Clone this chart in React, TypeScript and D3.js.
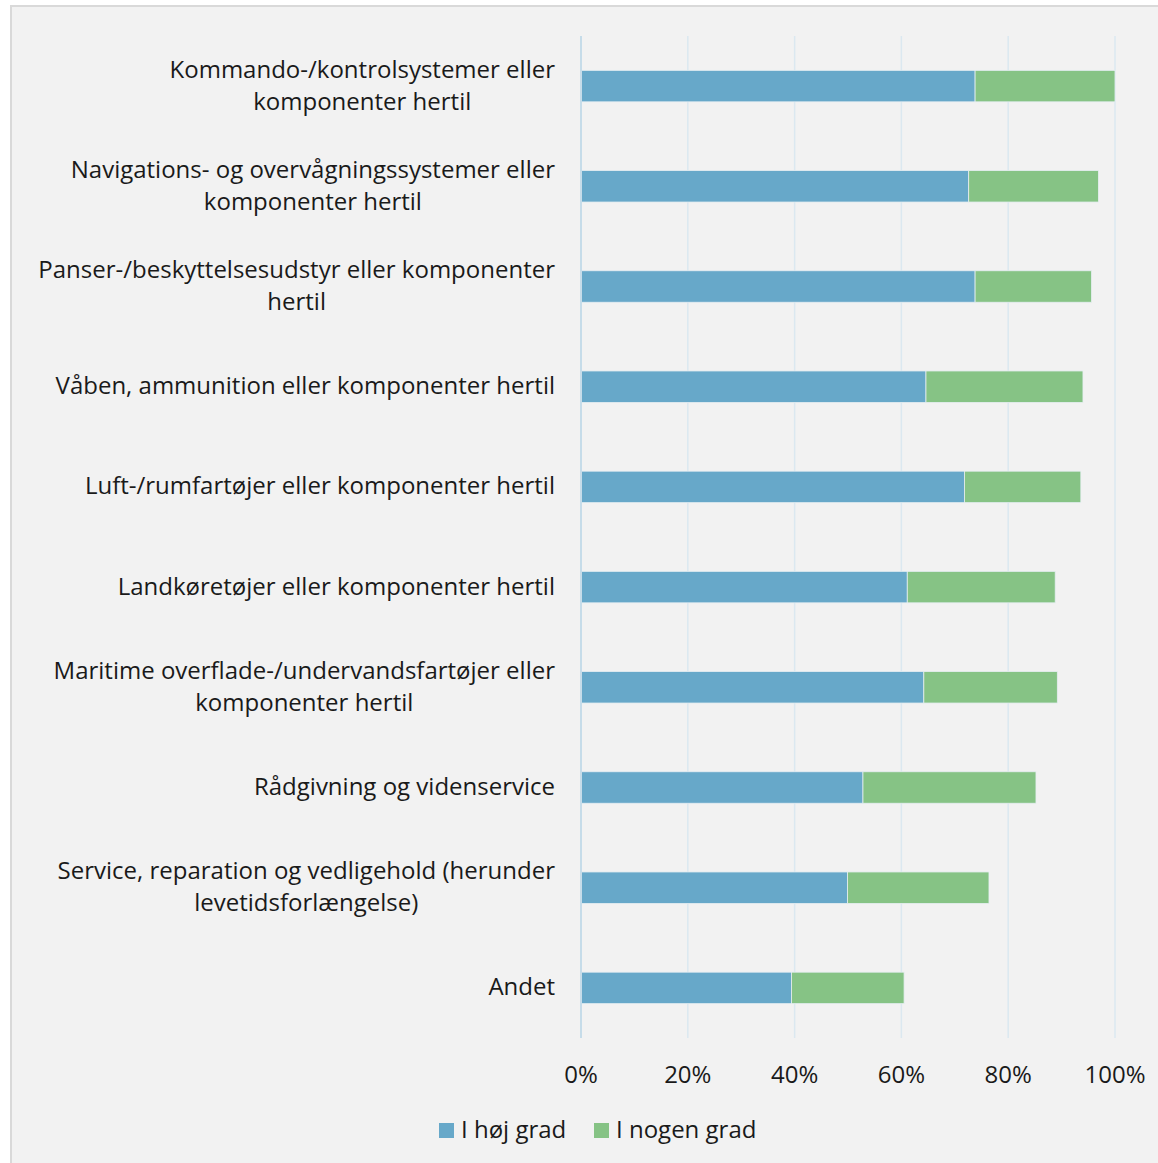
import React, { useEffect, useRef } from "react";
import * as d3 from "d3";

const categories = [
  "Kommando-/kontrolsystemer eller\nkomponenter hertil",
  "Navigations- og overvågningssystemer eller\nkomponenter hertil",
  "Panser-/beskyttelsesudstyr eller komponenter\nhertil",
  "Våben, ammunition eller komponenter hertil",
  "Luft-/rumfartøjer eller komponenter hertil",
  "Landkøretøjer eller komponenter hertil",
  "Maritime overflade-/undervandsfartøjer eller\nkomponenter hertil",
  "Rådgivning og videnservice",
  "Service, reparation og vedligehold (herunder\nlevetidsforlængelse)",
  "Andet",
];
const hojGrad = [73.8, 72.6, 73.8, 64.6, 71.8, 61.1, 64.2, 52.8, 49.9, 39.4];
const nogenGrad = [26.2, 24.3, 21.8, 29.4, 21.8, 27.7, 25.0, 32.4, 26.5, 21.1];
const seriesNames = ["I høj grad", "I nogen grad"];
const tickValues = [0, 20, 40, 60, 80, 100];

const W = 1158;
const H = 1163;
const FONT = "'Open Sans', 'Noto Sans', sans-serif";
const FS = 24;
const COLORS = ["#67a8c9", "#86c385"];

export default function App() {
  const ref = useRef<SVGSVGElement | null>(null);

  useEffect(() => {
    const svg = d3.select(ref.current);
    svg.selectAll("*").remove();

    // frame
    svg.append("rect").attr("x", 0).attr("y", 0).attr("width", W).attr("height", H).attr("fill", "#ffffff");
    svg.append("rect").attr("x", 11).attr("y", 6).attr("width", W + 10).attr("height", H + 10)
      .attr("fill", "#f2f2f2").attr("stroke", "#d9d9d9").attr("stroke-width", 2);

    const x = d3.scaleLinear().domain([0, 100]).range([581, 1115]);
    const y = d3.scaleBand<number>().domain(d3.range(categories.length)).range([36, 1038]).paddingInner(0.686).paddingOuter(0.343);

    // grid
    svg.append("g").selectAll("line").data(tickValues.slice(1)).join("line")
      .attr("x1", (d) => x(d)).attr("x2", (d) => x(d))
      .attr("y1", 36).attr("y2", 1038)
      .attr("stroke", "#dbe8f0").attr("stroke-width", 1.5);

    // bars
    const stackData = categories.map((_, i) => ({ i, a: hojGrad[i], b: nogenGrad[i] }));
    const stack = d3.stack<any>().keys(["a", "b"])(stackData);
    stack.forEach((layer, li) => {
      svg.append("g").selectAll("rect").data(layer).join("rect")
        .attr("x", (d) => x(d[0]))
        .attr("width", (d) => x(d[1]) - x(d[0]))
        .attr("y", (d) => y((d.data as any).i) as number)
        .attr("height", y.bandwidth())
        .attr("fill", COLORS[li])
        .attr("stroke", "#e6eef2").attr("stroke-width", 0.8);
    });

    // axis line at 0
    svg.append("line").attr("x1", x(0)).attr("x2", x(0)).attr("y1", 36).attr("y2", 1038)
      .attr("stroke", "#c6dce9").attr("stroke-width", 2);

    // tick labels
    svg.append("g").selectAll("text").data(tickValues).join("text")
      .attr("x", (d) => x(d)).attr("y", 1083)
      .attr("text-anchor", "middle")
      .attr("font-family", FONT).attr("font-size", FS).attr("fill", "#1a1a1a")
      .text((d) => `${d}%`);

    // category labels
    const labelRight = 555;
    const lineH = 32;
    categories.forEach((c, i) => {
      const lines = c.split("\n");
      const cy = (y(i) as number) + y.bandwidth() / 2;
      const g = svg.append("g");
      const texts = lines.map((ln, k) =>
        g.append("text")
          .attr("y", cy + (k - (lines.length - 1) / 2) * lineH + 7.5)
          .attr("font-family", FONT).attr("font-size", FS).attr("fill", "#1a1a1a")
          .attr("text-anchor", "middle")
          .text(ln)
      );
      const maxW = d3.max(texts, (t) => (t.node() as SVGTextElement).getComputedTextLength()) || 0;
      texts.forEach((t) => t.attr("x", labelRight - maxW / 2));
    });

    // legend
    const legend = [
      { sx: 439, tx: 461 },
      { sx: 594, tx: 616 },
    ];
    seriesNames.forEach((n, i) => {
      svg.append("rect").attr("x", legend[i].sx).attr("y", 1123).attr("width", 15).attr("height", 15).attr("fill", COLORS[i]);
      svg.append("text").attr("x", legend[i].tx).attr("y", 1138)
        .attr("font-family", FONT).attr("font-size", FS).attr("fill", "#1a1a1a").text(n);
    });
  }, []);

  return (
    <svg ref={ref} width={W} height={H} style={{ position: "absolute", left: 0, top: 0 }} />
  );
}
